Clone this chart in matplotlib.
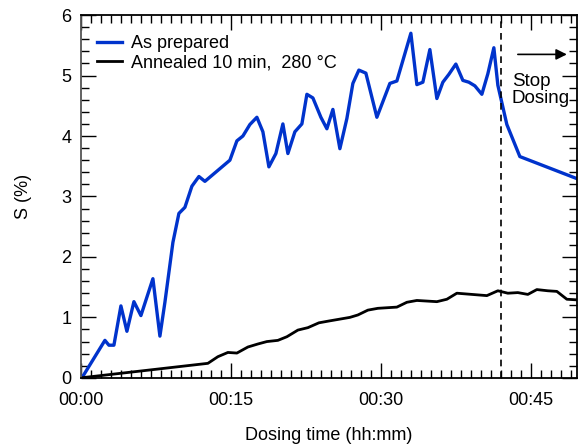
import matplotlib
matplotlib.use("Agg")
import matplotlib.pyplot as plt
from matplotlib.ticker import MultipleLocator, FixedLocator

plt.rcParams['font.family'] = ['Liberation Sans', 'DejaVu Sans']
plt.rcParams['font.size'] = 13

# dosing time in minutes, S in %
t_prepared = [0.1, 2.4, 2.8, 3.3, 4.0, 4.6, 5.3, 6.0, 7.2, 7.9, 8.4, 9.2, 9.8,
              10.4, 11.1, 11.8, 12.4, 14.9, 15.6, 16.2, 16.9, 17.6, 18.2, 18.8,
              19.5, 20.2, 20.7, 21.4, 22.1, 22.6, 23.2, 24.0, 24.6, 25.2, 25.9,
              26.6, 27.2, 27.8, 28.5, 29.6, 30.9, 31.6, 33.0, 33.6, 34.2, 34.9,
              35.6, 36.2, 36.8, 37.5, 38.2, 38.8, 39.4, 40.1, 40.7, 41.3, 41.7,
              42.6, 43.9, 50.0]
s_prepared = [0.0, 0.62, 0.54, 0.54, 1.19, 0.77, 1.26, 1.03, 1.64, 0.69, 1.25,
              2.24, 2.72, 2.82, 3.17, 3.33, 3.25, 3.60, 3.92, 4.00, 4.19, 4.31,
              4.07, 3.49, 3.71, 4.20, 3.71, 4.07, 4.20, 4.69, 4.63, 4.31, 4.12,
              4.44, 3.79, 4.29, 4.87, 5.09, 5.04, 4.31, 4.87, 4.91, 5.70, 4.85,
              4.89, 5.43, 4.62, 4.89, 5.02, 5.19, 4.92, 4.89, 4.83, 4.69, 5.03,
              5.46, 4.84, 4.19, 3.66, 3.27]

t_annealed = [0.0, 12.7, 13.7, 14.7, 15.6, 16.7, 17.7, 18.6, 19.7, 20.6, 21.7,
              22.7, 23.8, 24.8, 26.9, 27.7, 28.7, 29.7, 31.6, 32.6, 33.6, 35.6,
              36.6, 37.6, 40.6, 41.7, 42.7, 43.7, 44.7, 45.6, 46.7, 47.6, 48.6,
              49.6]
s_annealed = [0.0, 0.24, 0.35, 0.42, 0.41, 0.51, 0.56, 0.60, 0.62, 0.68, 0.79,
              0.83, 0.91, 0.94, 1.00, 1.04, 1.12, 1.15, 1.17, 1.25, 1.28, 1.26,
              1.30, 1.40, 1.36, 1.44, 1.40, 1.41, 1.38, 1.46, 1.44, 1.43, 1.30,
              1.29]

stop_time = 42.0
xtick_pos = [0, 15, 30, 45]
xtick_labels = ["00:00", "00:15", "00:30", "00:45"]

fig = plt.figure(figsize=(5.78, 4.44), dpi=100)
ax = fig.add_axes([0.140, 0.149, 0.858, 0.817])

ax.plot(t_prepared, s_prepared, color='#0033cc', lw=2.4, label='As prepared')
ax.plot(t_annealed, s_annealed, color='black', lw=2.0,
        label='Annealed 10 min,  280 °C')
ax.axvline(stop_time, color='black', lw=1.2, ls=(0, (4, 3)))

ax.annotate('', xy=(48.6, 5.35), xytext=(43.7, 5.35),
            arrowprops=dict(arrowstyle='-|>', color='black', lw=1.2,
                            mutation_scale=16, shrinkA=0, shrinkB=0))
ax.text(43.1, 5.05, 'Stop\nDosing', ha='left', va='top', fontsize=13.5,
        linespacing=1.05)

ax.set_xlim(0, 49.6)
ax.set_ylim(0, 6)
ax.xaxis.set_major_locator(FixedLocator(xtick_pos))
ax.set_xticklabels(xtick_labels)
ax.xaxis.set_minor_locator(MultipleLocator(1))
ax.yaxis.set_major_locator(MultipleLocator(1))
ax.yaxis.set_minor_locator(MultipleLocator(0.2))
ax.tick_params(which='both', direction='in', top=True, right=True,
               width=1.0, labelsize=13)
ax.tick_params(which='major', length=11)
ax.tick_params(which='minor', length=6)
ax.tick_params(axis='x', which='major', pad=10)
ax.tick_params(axis='y', which='major', pad=7)

for side in ['top', 'bottom', 'left', 'right']:
    ax.spines[side].set_linewidth(1.3)
ax.spines['left'].set_color('#555555')

ax.set_xlabel('Dosing time (hh:mm)', fontsize=13, labelpad=13)
ax.set_ylabel('S (%)', fontsize=13, labelpad=21)

ax.legend(loc='upper left', frameon=False, fontsize=13, handlelength=1.4,
          handletextpad=0.5, labelspacing=0.15, borderaxespad=0.5,
          bbox_to_anchor=(0.0, 0.99))

fig.savefig('out.png', dpi=100)
